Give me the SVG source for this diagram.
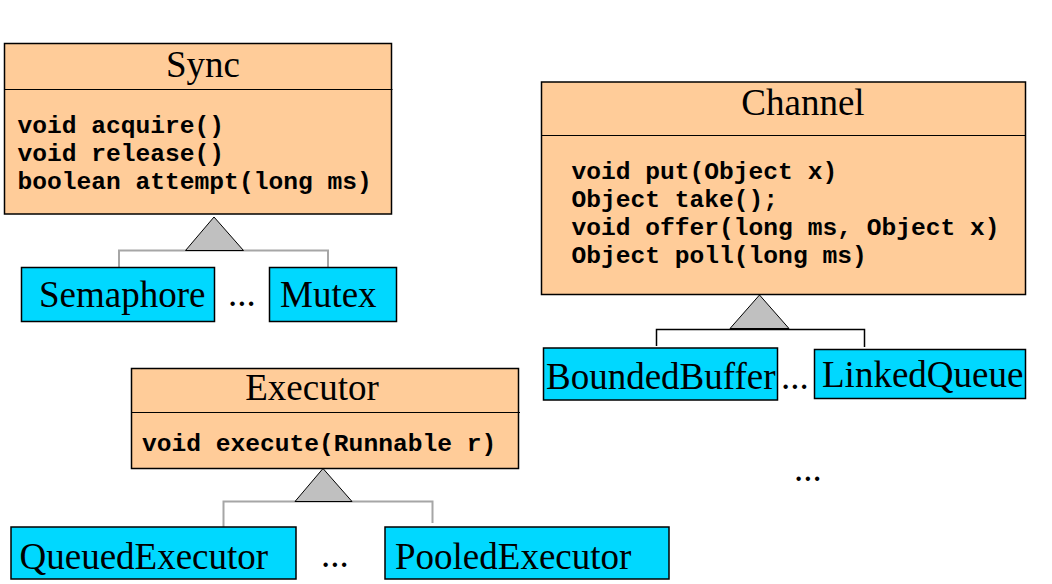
<svg xmlns="http://www.w3.org/2000/svg" width="1052" height="584" viewBox="0 0 1052 584">
<style>
.cls{fill:#FFCC99;stroke:#000;stroke-width:1.5}
.sub{fill:#00D8FF;stroke:#000;stroke-width:1.5}
.div{stroke:#000;stroke-width:1.2}
.t{font-family:"Liberation Serif","Times New Roman",serif;font-size:37px;fill:#000}
.m{font-family:"Liberation Mono","Courier New",monospace;font-weight:bold;font-size:24.6px;fill:#000}
.tri{fill:#C0C0C0;stroke:#000;stroke-width:1}
.g{fill:none;stroke:#A6A6A6;stroke-width:2}
.k{fill:none;stroke:#000;stroke-width:1.5}
</style>
<rect width="1052" height="584" fill="#fff"/>
<g id="connectors">
<path class="g" d="M119,267 V250.5 H328 V267"/>
<polygon class="tri" points="214,217 185.5,250.5 243.5,250.5"/>
<path class="k" d="M656.5,346 V329.5 H864.5 V347"/>
<polygon class="tri" points="759.5,295 730,328.5 789,328.5"/>
<path class="g" d="M223.5,527 V501.5 H432.5 V523"/>
<polygon class="tri" points="323,468.5 295,501.5 352,501.5"/>
</g>
<g id="Sync">
<rect class="cls" x="4.5" y="43.5" width="387" height="170.5"/>
<line class="div" x1="4.5" y1="89.5" x2="392.5" y2="89.5"/>
<text class="t" x="203" y="76.5" text-anchor="middle">Sync</text>
<text class="m" x="17.5" y="133">void acquire()</text>
<text class="m" x="17.5" y="161">void release()</text>
<text class="m" x="17.5" y="189">boolean attempt(long ms)</text>
</g>
<g id="Semaphore">
<rect class="sub" x="21.5" y="267.5" width="193" height="54"/>
<text class="t" x="39" y="306.5">Semaphore</text>
</g>
<text class="t" x="228" y="306">...</text>
<g id="Mutex">
<rect class="sub" x="269.5" y="267.5" width="127" height="54"/>
<text class="t" x="280" y="306.5">Mutex</text>
</g>
<g id="Channel">
<rect class="cls" x="541.5" y="82" width="484" height="212.5"/>
<line class="div" x1="541.5" y1="135.5" x2="1025.5" y2="135.5"/>
<text class="t" x="803" y="114.5" text-anchor="middle">Channel</text>
<text class="m" x="571.5" y="178.5">void put(Object x)</text>
<text class="m" x="571.5" y="206.5">Object take();</text>
<text class="m" x="571.5" y="234.5">void offer(long ms, Object x)</text>
<text class="m" x="571.5" y="262.5">Object poll(long ms)</text>
</g>
<g id="BoundedBuffer">
<rect class="sub" x="543.5" y="348" width="234" height="52"/>
<text class="t" x="546" y="388.5">BoundedBuffer</text>
</g>
<text class="t" x="781" y="388.5">...</text>
<g id="LinkedQueue">
<rect class="sub" x="814.5" y="349.5" width="211" height="49"/>
<text class="t" x="822" y="387">LinkedQueue</text>
</g>
<text class="t" x="794" y="481">...</text>
<g id="Executor">
<rect class="cls" x="131.5" y="368.5" width="387" height="100"/>
<line class="div" x1="131.5" y1="412.5" x2="520" y2="412.5"/>
<text class="t" x="312" y="400" text-anchor="middle">Executor</text>
<text class="m" x="142" y="451">void execute(Runnable r)</text>
</g>
<g id="QueuedExecutor">
<rect class="sub" x="11" y="527" width="285" height="52"/>
<text class="t" x="19.5" y="568.5">QueuedExecutor</text>
</g>
<text class="t" x="321" y="567">...</text>
<g id="PooledExecutor">
<rect class="sub" x="385" y="527" width="284" height="52"/>
<text class="t" x="395" y="568.5">PooledExecutor</text>
</g>
</svg>
